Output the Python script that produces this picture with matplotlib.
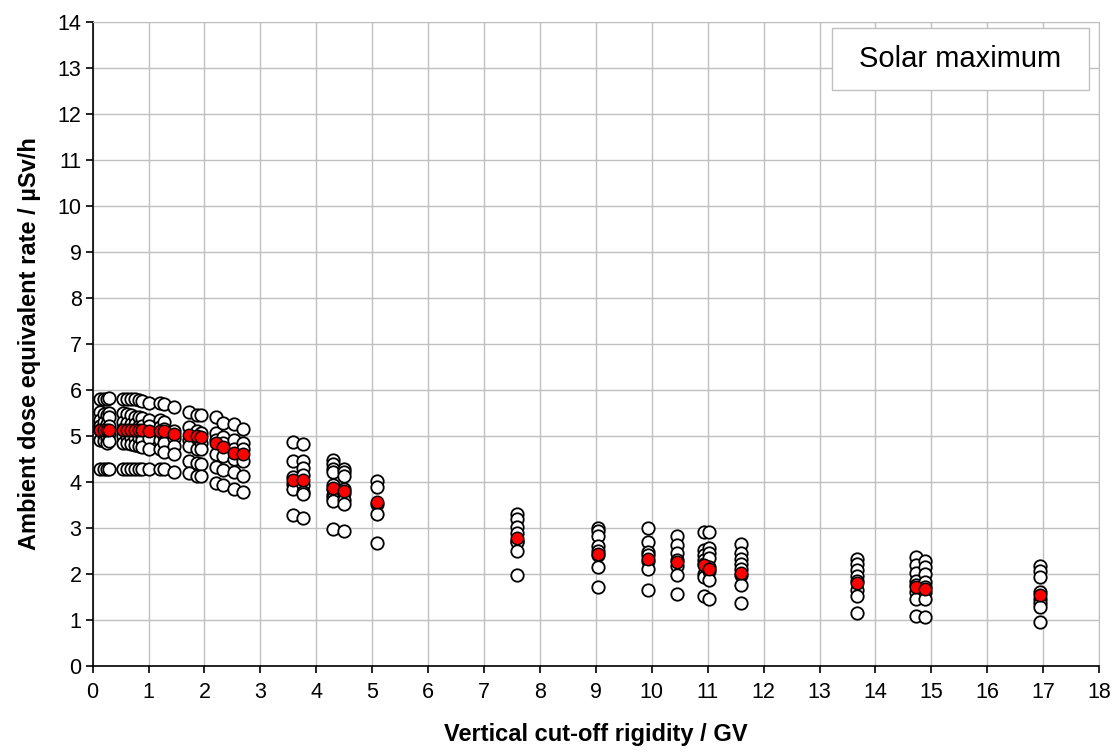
import matplotlib
matplotlib.use("Agg")
import matplotlib.pyplot as plt
from matplotlib import ticker
from matplotlib.patches import Rectangle

plt.rcParams['font.family'] = ['Liberation Sans', 'DejaVu Sans']

# vertical cut-off rigidity of each location (GV)
rigidity = [0.13, 0.20, 0.26, 0.30, 0.55, 0.62, 0.68, 0.75, 0.82, 0.88,
            1.00, 1.20, 1.27, 1.45, 1.73, 1.86, 1.93, 2.20, 2.33, 2.52,
            2.69, 3.58, 3.77, 4.30, 4.50, 5.08, 7.59, 9.03, 9.94, 10.45,
            10.94, 11.03, 11.59, 13.67, 14.73, 14.88, 16.95]

# single measurements at each location (µSv/h)
dose_values = [
    [5.80, 5.52, 5.35, 5.22, 5.12, 4.90, 4.28],
    [5.80, 5.48, 5.30, 5.15, 5.00, 4.88, 4.28],
    [5.80, 5.45, 5.25, 5.10, 4.95, 4.85, 4.28],
    [5.81, 5.50, 5.40, 5.20, 5.05, 4.88, 4.28],
    [5.80, 5.50, 5.30, 5.15, 5.00, 4.85, 4.28],
    [5.80, 5.48, 5.28, 5.12, 4.98, 4.84, 4.28],
    [5.80, 5.45, 5.25, 5.10, 4.95, 4.82, 4.28],
    [5.79, 5.40, 5.25, 5.05, 4.95, 4.80, 4.28],
    [5.78, 5.40, 5.22, 5.05, 4.95, 4.78, 4.28],
    [5.76, 5.38, 5.20, 5.00, 4.90, 4.75, 4.28],
    [5.72, 5.35, 5.22, 5.05, 4.95, 4.70, 4.28],
    [5.72, 5.35, 5.18, 5.05, 4.90, 4.70, 4.28],
    [5.68, 5.30, 5.15, 5.00, 4.85, 4.65, 4.28],
    [5.62, 5.10, 4.95, 4.78, 4.60, 4.22],
    [5.52, 5.18, 4.90, 4.78, 4.45, 4.18],
    [5.45, 5.10, 4.95, 4.72, 4.40, 4.12],
    [5.45, 5.05, 4.85, 4.70, 4.38, 4.12],
    [5.40, 5.05, 4.90, 4.60, 4.32, 3.98],
    [5.28, 4.98, 4.85, 4.55, 4.25, 3.92],
    [5.25, 4.90, 4.70, 4.50, 4.20, 3.85],
    [5.15, 4.85, 4.70, 4.45, 4.12, 3.78],
    [4.86, 4.46, 4.10, 3.95, 3.85, 3.27],
    [4.82, 4.45, 4.30, 4.15, 3.92, 3.78, 3.74, 3.22],
    [4.48, 4.38, 4.28, 4.22, 3.93, 3.85, 3.72, 3.65, 3.58, 2.98],
    [4.27, 4.20, 4.12, 3.85, 3.75, 3.60, 3.52, 2.93],
    [4.02, 3.88, 3.52, 3.30, 2.66],
    [3.30, 3.18, 3.02, 2.88, 2.72, 2.68, 2.50, 1.97],
    [3.00, 2.93, 2.82, 2.60, 2.50, 2.40, 2.15, 1.70],
    [2.99, 2.68, 2.48, 2.40, 2.28, 2.10, 1.65],
    [2.82, 2.63, 2.45, 2.30, 2.17, 1.97, 1.56],
    [2.90, 2.52, 2.40, 2.30, 2.20, 2.00, 1.93, 1.52],
    [2.90, 2.55, 2.45, 2.35, 2.15, 2.05, 1.87, 1.45],
    [2.64, 2.45, 2.33, 2.20, 2.10, 1.98, 1.76, 1.37],
    [2.33, 2.20, 2.08, 1.95, 1.85, 1.65, 1.52, 1.15],
    [2.36, 2.18, 2.02, 1.85, 1.75, 1.60, 1.44, 1.09],
    [2.28, 2.14, 2.00, 1.82, 1.72, 1.60, 1.44, 1.06],
    [2.17, 2.06, 1.92, 1.60, 1.45, 1.36, 1.27, 0.94],
]

# mean value at each location (red points)
dose_mean = [5.12, 5.12, 5.12, 5.12, 5.12, 5.12, 5.12, 5.12, 5.12, 5.12,
             5.11, 5.10, 5.10, 5.04, 5.01, 4.99, 4.98, 4.83, 4.76, 4.63,
             4.60, 4.03, 4.03, 3.87, 3.80, 3.55, 2.78, 2.43, 2.33, 2.25,
             2.18, 2.10, 2.02, 1.79, 1.70, 1.67, 1.53]

fig = plt.figure(figsize=(11.15, 7.55), dpi=100)
ax = fig.add_axes([0.0831, 0.1183, 0.9026, 0.8530])

for x, vals in zip(rigidity, dose_values):
    ax.scatter([x] * len(vals), vals, s=80, c='white', edgecolors='black',
               linewidths=1.3, zorder=3)
ax.scatter(rigidity, dose_mean, s=80, c='#ff0000', edgecolors='black',
           linewidths=1.1, zorder=4)

ax.set_xlim(0, 18)
ax.set_ylim(0, 14)
ax.xaxis.set_major_locator(ticker.MultipleLocator(1))
ax.yaxis.set_major_locator(ticker.MultipleLocator(1))

# сетка и оси
ax.grid(True, color='#c0c0c0', linewidth=1.0, zorder=0)
ax.set_axisbelow(True)
ax.spines['right'].set_color('#c0c0c0')
ax.spines['top'].set_color('#c0c0c0')
ax.spines['left'].set_color('black')
ax.spines['bottom'].set_color('black')
ax.spines['left'].set_linewidth(1.2)
ax.spines['bottom'].set_linewidth(1.2)
ax.tick_params(direction='out', length=5, width=1.2, labelsize=15.5)
ax.tick_params(axis='x', pad=7)
ax.tick_params(axis='y', pad=3)

ax.set_xlabel('Vertical cut-off rigidity / GV', fontsize=17, fontweight='bold',
              labelpad=14)
ax.set_ylabel('Ambient dose equivalent rate / µSv/h', fontsize=17,
              fontweight='bold', labelpad=12)

# рамка с подписью
ax.add_patch(Rectangle((0.7344, 0.894), 0.256, 0.0963, transform=ax.transAxes,
                       facecolor='white', edgecolor='#c0c0c0', linewidth=1.0,
                       zorder=5))
ax.text(0.862, 0.942, 'Solar maximum', transform=ax.transAxes, fontsize=21,
        ha='center', va='center', zorder=6)

fig.savefig('out.png', dpi=100)
